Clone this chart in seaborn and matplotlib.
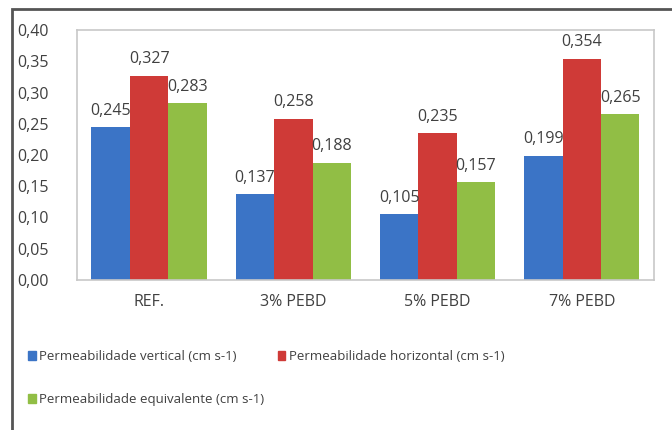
import matplotlib
matplotlib.use("Agg")
import matplotlib.pyplot as plt
import matplotlib.patches as mpatches
from matplotlib.ticker import FuncFormatter
import pandas as pd
import seaborn as sns

categories = ["REF.", "3% PEBD", "5% PEBD", "7% PEBD"]
vertical = [0.245, 0.137, 0.105, 0.199]
horizontal = [0.327, 0.258, 0.235, 0.354]
equivalente = [0.283, 0.188, 0.157, 0.265]
series = ["Permeabilidade vertical (cm s-1)",
          "Permeabilidade horizontal (cm s-1)",
          "Permeabilidade equivalente (cm s-1)"]
colours = ["#3b74c6", "#cf3a37", "#91be45"]

rows = []
for name, vals in zip(series, [vertical, horizontal, equivalente]):
    for cat, v in zip(categories, vals):
        rows.append({"cat": cat, "serie": name, "valor": v})
df = pd.DataFrame(rows)

sns.set_style("white")
plt.rcParams["font.family"] = ["Open Sans", "DejaVu Sans"]
text_col = "#404040"

fig = plt.figure(figsize=(6.72, 4.30), dpi=100)
ax = fig.add_axes([0.1146, 0.349, 0.8584, 0.581])
sns.barplot(data=df, x="cat", y="valor", hue="serie", palette=colours,
            width=0.8, saturation=1, linewidth=0, ax=ax, legend=False)

for cont in ax.containers:
    ax.bar_label(cont, labels=[f"{b.get_height():.3f}".replace(".", ",") for b in cont],
                 padding=6, fontsize=11.5, color=text_col)

ax.set_ylim(0, 0.40)
ax.set_yticks([i * 0.05 for i in range(9)])
ax.yaxis.set_major_formatter(FuncFormatter(lambda v, p: f"{v:.2f}".replace(".", ",")))
ax.tick_params(axis="both", length=0, labelsize=11.5, colors=text_col)
ax.tick_params(axis="y", pad=20)
ax.tick_params(axis="x", pad=10)
ax.set_xlabel("")
ax.set_ylabel("")
for s in ax.spines.values():
    s.set_color("#c8c8c8")
    s.set_linewidth(1.2)

# excel-style legend: two items on the first row, one below
handles = [mpatches.Patch(color=c, label=l) for c, l in zip(colours, series)]
order = [0, 2, 1]
fig.legend([handles[i] for i in order], [series[i] for i in order],
           loc="upper left", bbox_to_anchor=(0.024, 0.213), ncol=2,
           frameon=False, fontsize=9.5, handlelength=0.6, handleheight=0.6,
           handletextpad=0.25, columnspacing=1.0, labelspacing=2.25,
           labelcolor=text_col)

# outer chart frame
fig.patches.append(mpatches.Rectangle((12 / 672, -0.05), 1.1, 1 - 9 / 430 + 0.05,
                                      transform=fig.transFigure, fill=False,
                                      edgecolor="#555555", linewidth=2))

fig.savefig("out.png", dpi=100)
